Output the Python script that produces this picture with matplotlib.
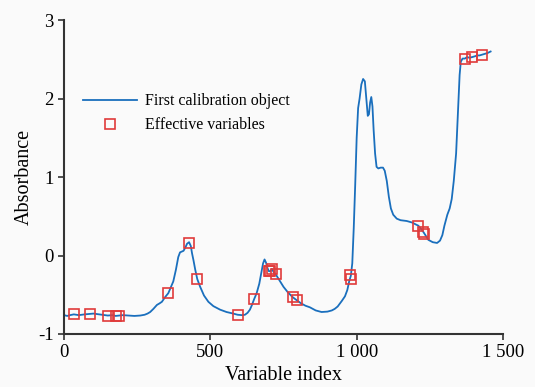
import matplotlib
matplotlib.use("Agg")
import matplotlib.pyplot as plt
from matplotlib.ticker import FuncFormatter

# ========== DATA ==========
# spectrum of the first calibration object
var_index = [0, 10, 20, 33, 50, 70, 87, 100, 120, 149, 165, 176, 188, 200, 220, 240, 260,
             275, 285, 294, 305, 317, 326, 334, 345, 356, 365, 373, 382, 390, 396, 402, 408,
             414, 420, 427, 433, 437, 442, 448, 455, 465, 478, 493, 510, 533, 555, 578, 593,
             608, 618, 627, 635, 642, 649, 658, 667, 675, 680, 685, 690, 695, 700, 705, 710,
             716, 725, 735, 750, 765, 781, 795, 810, 825, 840, 860, 880, 900, 915, 925, 935,
             949, 960, 968, 975, 980, 985, 990, 995, 1000, 1005, 1010, 1016, 1022, 1028, 1033,
             1038, 1042, 1046, 1050, 1054, 1058, 1063, 1068, 1074, 1082, 1090, 1096, 1103,
             1110, 1117, 1125, 1137, 1150, 1171, 1190, 1200, 1211, 1220, 1228, 1235, 1245,
             1260, 1275, 1285, 1293, 1300, 1310, 1318, 1325, 1332, 1340, 1346, 1352, 1356,
             1362, 1370, 1378, 1385, 1396, 1405, 1412, 1420, 1429, 1438, 1447, 1458]
absorbance = [-0.76, -0.77, -0.76, -0.75, -0.76, -0.75, -0.745, -0.74, -0.75, -0.765, -0.76,
              -0.77, -0.765, -0.76, -0.765, -0.77, -0.765, -0.755, -0.74, -0.72, -0.68, -0.63,
              -0.61, -0.59, -0.53, -0.48, -0.40, -0.33, -0.18, -0.02, 0.04, 0.05, 0.06, 0.10,
              0.15, 0.17, 0.12, 0.03, -0.06, -0.18, -0.30, -0.40, -0.51, -0.59, -0.645, -0.69,
              -0.72, -0.74, -0.755, -0.76, -0.755, -0.73, -0.69, -0.63, -0.56, -0.48, -0.36,
              -0.20, -0.10, -0.05, -0.09, -0.16, -0.20, -0.20, -0.17, -0.21, -0.25, -0.31,
              -0.40, -0.47, -0.53, -0.57, -0.61, -0.64, -0.66, -0.70, -0.72, -0.715, -0.70,
              -0.68, -0.65, -0.58, -0.52, -0.44, -0.32, -0.26, -0.10, 0.35, 0.90, 1.50, 1.88,
              2.00, 2.18, 2.25, 2.22, 2.00, 1.78, 1.80, 1.95, 2.02, 1.90, 1.60, 1.30, 1.13,
              1.11, 1.12, 1.12, 1.08, 0.95, 0.75, 0.60, 0.52, 0.47, 0.45, 0.44, 0.42, 0.40,
              0.38, 0.34, 0.30, 0.26, 0.20, 0.17, 0.16, 0.19, 0.26, 0.38, 0.52, 0.60, 0.72,
              0.95, 1.30, 1.80, 2.30, 2.47, 2.51, 2.51, 2.53, 2.52, 2.53, 2.54, 2.55, 2.55,
              2.56, 2.57, 2.58, 2.60]

# selected effective variables
eff_index = [33, 87, 149, 176, 188, 356, 426, 455, 593, 649, 700, 705, 710, 725, 781, 795,
             976, 979, 1211, 1228, 1231, 1370, 1396, 1429]
eff_absorbance = [-0.75, -0.745, -0.765, -0.77, -0.765, -0.48, 0.155, -0.30, -0.755, -0.56,
                  -0.20, -0.20, -0.17, -0.24, -0.53, -0.57, -0.25, -0.30, 0.38, 0.30, 0.28,
                  2.51, 2.53, 2.56]

x_ticks = [0, 500, 1000, 1500]
y_ticks = [-1, 0, 1, 2, 3]

# ========== PLOT ==========
plt.rcParams['font.family'] = ['Liberation Serif', 'DejaVu Serif']
plt.rcParams['axes.unicode_minus'] = False

fig = plt.figure(figsize=(5.35, 3.87), dpi=100)
fig.patch.set_facecolor("#fafafa")
ax = fig.add_axes([0.12, 0.137, 0.82, 0.811])
ax.set_facecolor("#fafafa")

ax.plot(var_index, absorbance, color="#1a6fbd", lw=1.3, label="First calibration object")
ax.plot(eff_index, eff_absorbance, ls="none", marker="s", ms=7.5, mfc="none",
        mec="#e03a3a", mew=1.2, label="Effective variables")

ax.set_xlim(0, 1500)
ax.set_ylim(-1, 3)
ax.set_xticks(x_ticks)
ax.set_yticks(y_ticks)
ax.xaxis.set_major_formatter(FuncFormatter(lambda v, p: f"{int(v):,}".replace(",", " ")))

for s in ["top", "right"]:
    ax.spines[s].set_visible(False)
for s in ["left", "bottom"]:
    ax.spines[s].set_linewidth(1.5)
    ax.spines[s].set_color("#333333")
ax.tick_params(direction="out", length=4, width=1.2, labelsize=13.5, colors="#333333",
               labelcolor="black")

ax.set_xlabel("Variable index", fontsize=14.5, labelpad=3)
ax.set_ylabel("Absorbance", fontsize=14.5)
ax.yaxis.set_label_coords(-0.07, 0.5)

ax.legend(loc="upper left", bbox_to_anchor=(0.01, 0.813), frameon=False, fontsize=11.5,
          handlelength=3.4, handletextpad=0.5, labelspacing=0.5)

fig.savefig("out.png", dpi=100, facecolor=fig.get_facecolor())
